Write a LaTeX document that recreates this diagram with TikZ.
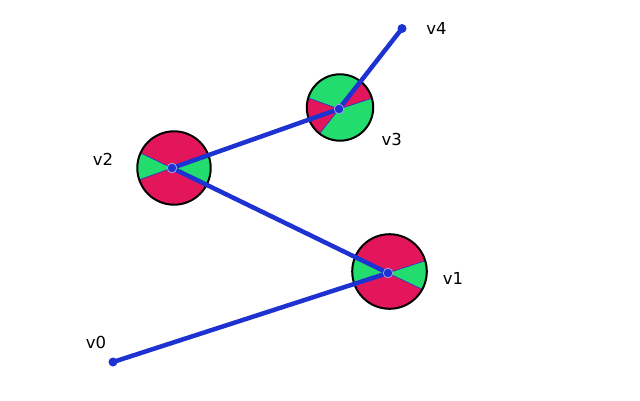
\documentclass[tikz,border=0pt]{standalone}
\usepackage{fontspec}
\setmainfont{DejaVu Sans}
\definecolor{edgeblue}{RGB}{30,50,210}
\definecolor{wred}{RGB}{227,22,91}
\definecolor{wgreen}{RGB}{34,221,110}
\tikzset{
  edgeline/.style={draw=edgeblue,line width=4.5pt},
  rim/.style={draw=black,line width=2pt},
  wedgeline/.style={draw=edgeblue,line width=0.6pt},
  vdot/.style={circle,fill=edgeblue,inner sep=0pt,minimum size=9pt},
  vdotring/.style={circle,fill=edgeblue,draw=white!55!edgeblue,line width=0.8pt,inner sep=0pt,minimum size=9.5pt},
  lbl/.style={inner sep=0pt,font=\fontsize{16.5}{18}\selectfont}
}
\begin{document}
\begin{tikzpicture}[x=1pt,y=1pt]
\useasboundingbox (0,0) rectangle (640,400);
% vertex positions
\coordinate (p0) at (113,38);
\coordinate (p1) at (388,127);
\coordinate (p2) at (172,232);
\coordinate (p3) at (339,291);
\coordinate (p4) at (402,371.5);
% circle centres
\coordinate (c1) at (389.5,128.5);
\coordinate (c2) at (174,232);
\coordinate (c3) at (340,292.5);
% v2 glyph
\fill[wred] (c2) circle (36.7);
\begin{scope}
\clip (c2) circle (36.7);
\filldraw[wedgeline,fill=wgreen] (p2) -- ++(-25.49:60) arc[start angle=-25.49,end angle=19.77,radius=60] -- cycle;
\filldraw[wedgeline,fill=wgreen] (p2) -- ++(154.51:60) arc[start angle=154.51,end angle=199.77,radius=60] -- cycle;
\end{scope}
\draw[rim] (c2) circle (36.7);
% v3 glyph
\fill[wgreen] (c3) circle (33.2);
\begin{scope}
\clip (c3) circle (33.2);
\filldraw[wedgeline,fill=wred] (p3) -- ++(18:60) arc[start angle=18,end angle=51.78,radius=60] -- cycle;
\filldraw[wedgeline,fill=wred] (p3) -- ++(160.23:60) arc[start angle=160.23,end angle=231.78,radius=60] -- cycle;
\end{scope}
\draw[rim] (c3) circle (33.2);
% v1 glyph
\fill[wred] (c1) circle (37.3);
\begin{scope}
\clip (c1) circle (37.3);
\filldraw[wedgeline,fill=wgreen] (p1) -- ++(154.51:60) arc[start angle=154.51,end angle=198.12,radius=60] -- cycle;
\filldraw[wedgeline,fill=wgreen] (p1) -- ++(-25.49:60) arc[start angle=-25.49,end angle=18.12,radius=60] -- cycle;
\end{scope}
\draw[rim] (c1) circle (37.3);
% vertices (named, for the connectors)
\coordinate (v0) at (p0);
\coordinate (v1) at (p1);
\coordinate (v2) at (p2);
\coordinate (v3) at (p3);
\coordinate (v4) at (p4);
% edges
\draw[edgeline] (v0) -- (v1);
\draw[edgeline] (v1) -- (v2);
\draw[edgeline] (v2) -- (v3);
\draw[edgeline] (v3) -- (v4);
% dots on top
\node[vdot] (d0) at (v0) {};
\node[vdotring] (d1) at (v1) {};
\node[vdotring] (d2) at (v2) {};
\node[vdotring] (d3) at (v3) {};
\node[vdot] (d4) at (v4) {};
% labels
\node[lbl] (l0) at (96,57.5) {v0};
\node[lbl] (l1) at (453,121.3) {v1};
\node[lbl] (l2) at (103,240.3) {v2};
\node[lbl] (l3) at (391.7,261) {v3};
\node[lbl] (l4) at (436.5,372) {v4};
\end{tikzpicture}
\end{document}
